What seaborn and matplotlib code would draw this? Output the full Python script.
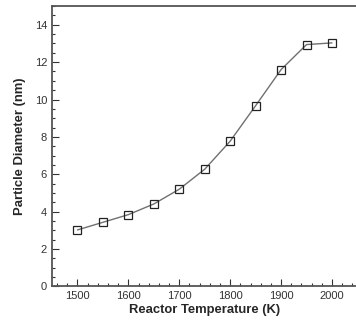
import pandas as pd
import matplotlib
matplotlib.use("Agg")
import matplotlib.pyplot as plt
import seaborn as sns
from matplotlib.ticker import MultipleLocator

# Werte
temperature = [1500, 1550, 1600, 1650, 1700, 1750, 1800, 1850, 1900, 1950, 2000]
diameter = [3.02, 3.43, 3.84, 4.41, 5.2, 6.27, 7.77, 9.67, 11.6, 12.94, 13.03]

df = pd.DataFrame({"T": temperature, "d": diameter})

sns.set_style("ticks")
plt.rcParams["font.family"] = ["Liberation Sans", "DejaVu Sans"]

fig = plt.figure(figsize=(3.56, 3.2), dpi=100)
ax = fig.add_axes([0.146, 0.105, 0.858, 0.876])

sns.lineplot(data=df, x="T", y="d", ax=ax, color="#707070", linewidth=1.0,
             marker="s", markersize=5.5, markerfacecolor="none",
             markeredgecolor="#222222", markeredgewidth=0.9)

ax.set_xlim(1450, 2050)
ax.set_ylim(0, 15)
ax.xaxis.set_major_locator(MultipleLocator(100))
ax.xaxis.set_minor_locator(MultipleLocator(20))
ax.yaxis.set_major_locator(MultipleLocator(2))
ax.yaxis.set_minor_locator(MultipleLocator(0.5))
ax.tick_params(which="both", direction="in", colors="#333333", labelcolor="#333333",
               labelsize=8, width=0.8)
ax.tick_params(which="major", length=5)
ax.tick_params(which="minor", length=2.5)
for s in ax.spines.values():
    s.set_color("#555555")
    s.set_linewidth(1.3)
ax.spines["right"].set_visible(False)

ax.set_xlabel("Reactor Temperature (K)", fontsize=9.4, fontweight="bold", labelpad=2)
ax.set_ylabel("Particle Diameter (nm)", fontsize=9.4, fontweight="bold", labelpad=6)

fig.savefig("out.png", dpi=100)
